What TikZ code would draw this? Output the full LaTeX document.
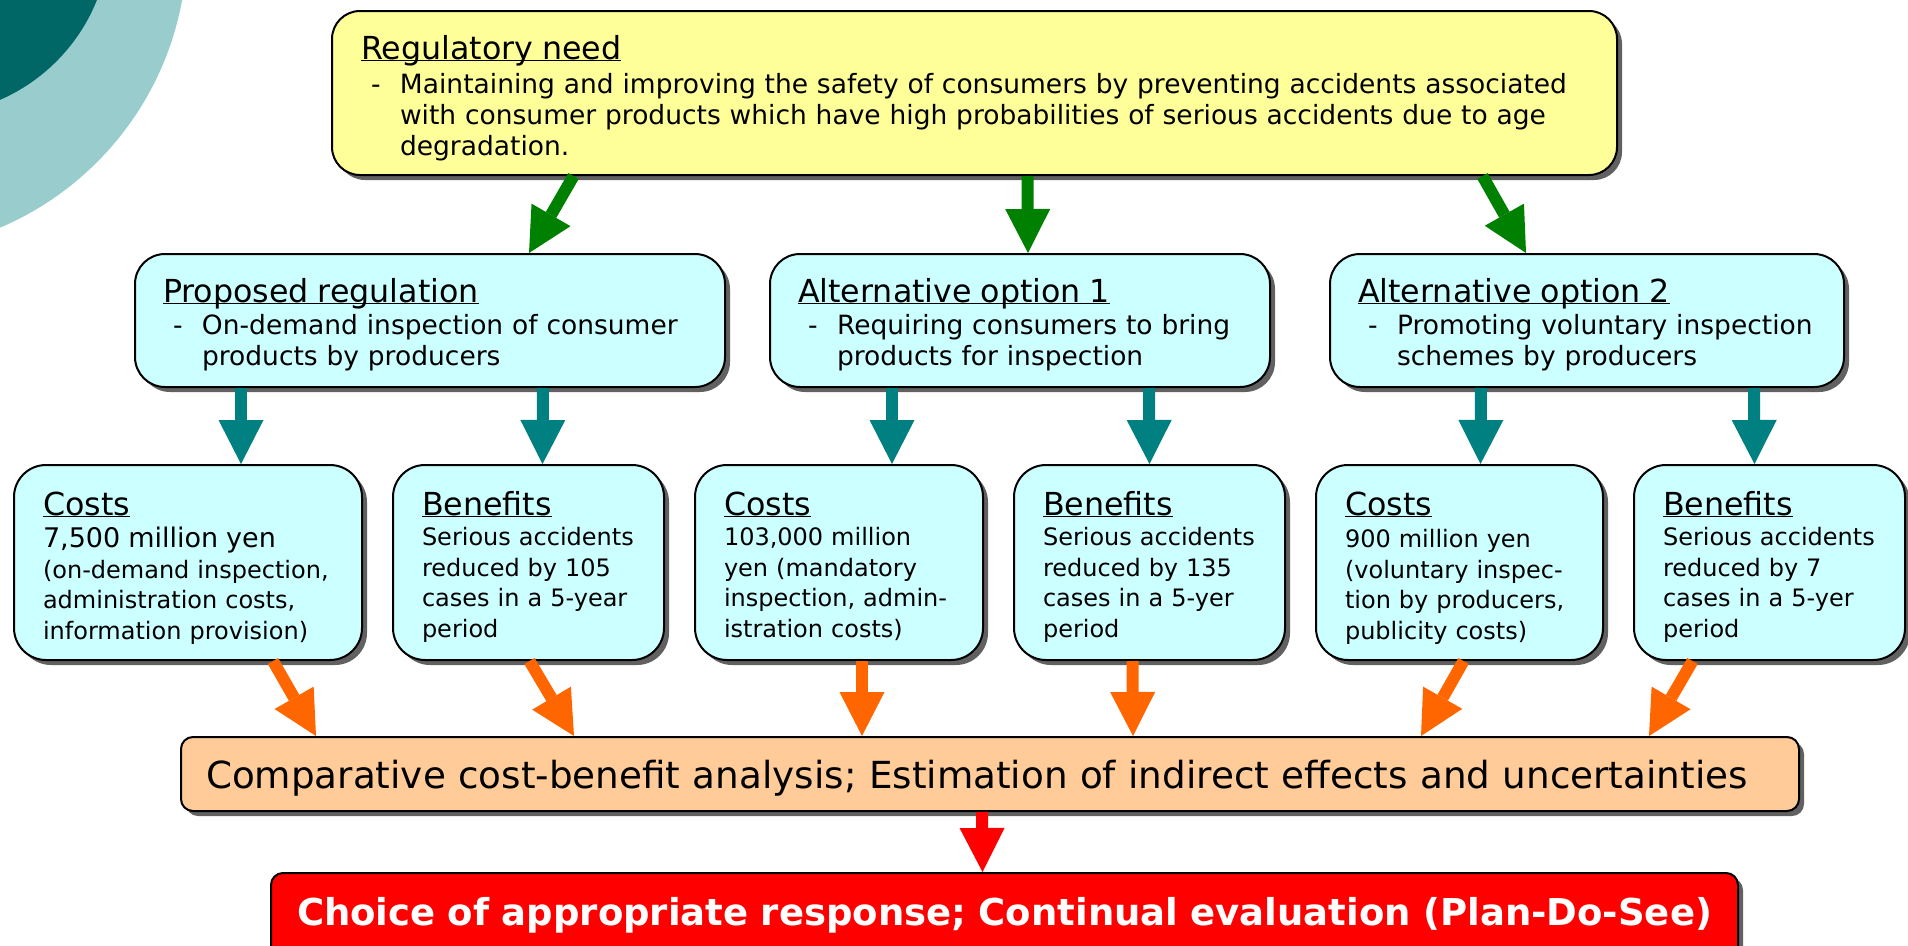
\documentclass[tikz,border=0pt]{standalone}
\usepackage{fontspec}
\setmainfont{DejaVu Sans}
\usepackage{tikz,xcolor}
\usetikzlibrary{arrows.meta,positioning,shadows}
\definecolor{needyellow}{HTML}{FFFF99}
\definecolor{optcyan}{HTML}{CCFFFF}
\definecolor{cbapeach}{HTML}{FFCC99}
\definecolor{decodark}{HTML}{006666}
\definecolor{decolight}{HTML}{99CCCC}
\definecolor{arrgreen}{HTML}{008000}
\definecolor{arrteal}{HTML}{008080}
\definecolor{arrorange}{HTML}{FF6600}
\tikzstyle{blockarrow} = [line width=12pt,-{Triangle[length=44pt,width=45pt,line width=0pt]}]
\newcommand{\headsize}{\fontsize{31.7}{34}\selectfont}
\newcommand{\bodysize}{\fontsize{26.5}{31}\selectfont}
\newcommand{\smallsize}{\fontsize{24}{30.5}\selectfont}
\newcommand{\ulhead}[1]{{\headsize\underline{\smash{#1}}}}
\newcommand{\dashitem}[2]{\leavevmode\rlap{\hspace*{#1}-}\hspace*{#2}}

\begin{document}
\begin{tikzpicture}[x=1pt,y=1pt,
    every node/.style={draw,line width=2pt,align=left,inner ysep=0pt,
      drop shadow={shadow xshift=5pt,shadow yshift=-5pt,fill=black!62,opacity=1}},
    needbox/.style={fill=needyellow,rounded corners=28pt,inner xsep=29pt,font=\bodysize},
    optbox/.style={fill=optcyan,rounded corners=30pt,inner xsep=28pt,font=\bodysize,
      text height=48pt,text depth=85pt},
    resbox/.style={fill=optcyan,rounded corners=32pt,inner xsep=29pt,font=\smallsize,
      text height=50pt,text depth=145pt},
  ]
    \useasboundingbox (0,0) rectangle (1908,-945);
    % corner decoration
    \fill[decolight] (-120,55) circle (307);
    \fill[decodark] (-73,68) circle (183);

    % create the nodes
    \node (need) [needbox, anchor=north west, text width=1227pt, text height=48pt, text depth=116pt] at (331,-10)
      {\ulhead{Regulatory need}\\[3pt]
       \dashitem{10pt}{39pt}Maintaining and improving the safety of consumers by preventing accidents associated\\
       \hspace*{39pt}with consumer products which have high probabilities of serious accidents due to age\\
       \hspace*{39pt}degradation.};

    \node (prop) [optbox, anchor=north west, text width=534pt] at (134,-253)
      {\ulhead{Proposed regulation}\\[1pt]
       \dashitem{10pt}{39pt}On-demand inspection of consumer\\
       \hspace*{39pt}products by producers};
    \node (alt1) [optbox, right=43pt of prop, text width=444pt]
      {\ulhead{Alternative option 1}\\[1pt]
       \dashitem{10pt}{39pt}Requiring consumers to bring\\
       \hspace*{39pt}products for inspection};
    \node (alt2) [optbox, right=58pt of alt1, text width=458pt]
      {\ulhead{Alternative option 2}\\[1pt]
       \dashitem{10pt}{39pt}Promoting voluntary inspection\\
       \hspace*{39pt}schemes by producers};

    \node (cost1) [resbox, anchor=north west, text width=290pt] at (13,-464)
      {\ulhead{Costs}\\[2pt]
       {\fontsize{27}{30.5}\selectfont 7,500 million yen}\\
       (on-demand inspection,\\ administration costs,\\ information provision)};
    \node (ben1) [resbox, right=29pt of cost1, text width=213pt]
      {\ulhead{Benefits}\\
       Serious accidents\\ reduced by 105\\ cases in a 5-year\\ period};
    \node (cost2) [resbox, right=29pt of ben1, text width=230pt]
      {\ulhead{Costs}\\
       103,000 million\\ yen (mandatory\\ inspection, admin-\\ istration costs)};
    \node (ben2) [resbox, right=29pt of cost2, text width=213pt]
      {\ulhead{Benefits}\\
       Serious accidents\\ reduced by 135\\ cases in a 5-yer\\ period};
    \node (cost3) [resbox, right=29pt of ben2, text width=229pt]
      {\ulhead{Costs}\\[2pt]
       900 million yen\\ (voluntary inspec-\\ tion by producers,\\ publicity costs)};
    \node (ben3) [resbox, right=29pt of cost3, text width=213pt]
      {\ulhead{Benefits}\\
       Serious accidents\\ reduced by 7\\ cases in a 5-yer\\ period};

    \node (cba) [fill=cbapeach, rounded corners=12pt, font=\fontsize{37.3}{40}\selectfont,
      anchor=north west, text width=1568pt, inner xsep=25pt, text height=51pt, text depth=23pt] at (180,-736)
      {Comparative cost-benefit analysis; Estimation of indirect effects and uncertainties};
    \node (choice) [fill=red, text=white, rounded corners=12pt, font=\fontsize{37}{40}\selectfont\bfseries,
      align=center, anchor=north west, text width=1425pt, inner xsep=21pt, text height=52pt, text depth=40pt] at (270,-872)
      {Choice of appropriate response; Continual evaluation (Plan-Do-See)};

    % connect the nodes
    \draw[blockarrow, arrgreen] ([xshift=-401pt]need.south) -- ([xshift=99pt]prop.north);
    \draw[blockarrow, arrgreen] ([xshift=53pt]need.south) -- ([xshift=8pt]alt1.north);
    \draw[blockarrow, arrgreen] ([xshift=508pt]need.south) -- ([xshift=-61pt]alt2.north);

    \draw[blockarrow, arrteal] ([xshift=-189pt]prop.south) -- ([xshift=53pt]cost1.north);
    \draw[blockarrow, arrteal] ([xshift=113pt]prop.south) -- ([xshift=14pt]ben1.north);
    \draw[blockarrow, arrteal] ([xshift=-128pt]alt1.south) -- ([xshift=53pt]cost2.north);
    \draw[blockarrow, arrteal] ([xshift=129pt]alt1.south) -- (ben2.north);
    \draw[blockarrow, arrteal] ([xshift=-106pt]alt2.south) -- ([xshift=21pt]cost3.north);
    \draw[blockarrow, arrteal] ([xshift=167pt]alt2.south) -- ([xshift=-15pt]ben3.north);

    \draw[blockarrow, arrorange] ([xshift=85pt]cost1.south) -- ([xshift=-674pt]cba.north);
    \draw[blockarrow, arrorange] ([xshift=1pt]ben1.south) -- ([xshift=-416pt]cba.north);
    \draw[blockarrow, arrorange] ([xshift=23pt]cost2.south) -- ([xshift=-128pt]cba.north);
    \draw[blockarrow, arrorange] ([xshift=-17pt]ben2.south) -- ([xshift=143pt]cba.north);
    \draw[blockarrow, arrorange] ([xshift=4pt]cost3.south) -- ([xshift=431pt]cba.north);
    \draw[blockarrow, arrorange] ([xshift=-77pt]ben3.south) -- ([xshift=659pt]cba.north);

    \draw[blockarrow, red] ([xshift=-8pt]cba.south) -- ([xshift=-22pt]choice.north);
\end{tikzpicture}
\end{document}
